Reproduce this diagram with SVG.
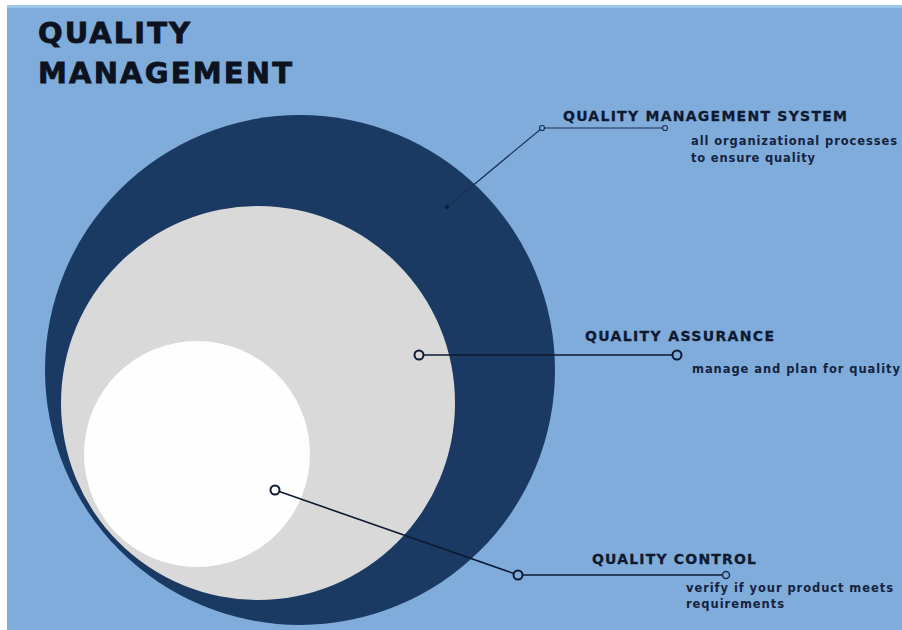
<svg xmlns="http://www.w3.org/2000/svg" width="902" height="630" viewBox="0 0 902 630">
  <style>
    .title { font-family: "DejaVu Sans", "Liberation Sans", sans-serif; font-weight: bold; font-size: 29px; fill: #0d1220; stroke: #0d1220; stroke-width: 0.8; }
    .head { font-family: "DejaVu Sans", "Liberation Sans", sans-serif; font-weight: bold; font-size: 14px; fill: #0f1a2e; stroke: #0f1a2e; stroke-width: 0.3; }
    .sub { font-family: "DejaVu Sans", "Liberation Sans", sans-serif; font-size: 11.5px; fill: #15233d; font-weight: 600; }
    .conn { stroke: #0e1a30; stroke-width: 1.6; fill: none; }
    .thin { stroke: #1a2f52; stroke-width: 1.2; fill: none; }
    .ring { fill: #80acdc; stroke: #0e1a30; stroke-width: 2; }
    .ringsm { fill: #80acdc; stroke: #1a2f52; stroke-width: 1.2; }
  </style>
  <rect x="0" y="0" width="902" height="630" fill="#ffffff"/>
  <rect x="7" y="5" width="895" height="625" fill="#80acdc"/>
  <rect x="7" y="5" width="895" height="3" fill="#9cc6e6"/>

  <g id="title">
    <text class="title" x="38" y="43" textLength="152" lengthAdjust="spacing">QUALITY</text>
    <text class="title" x="38" y="83" textLength="254" lengthAdjust="spacing">MANAGEMENT</text>
  </g>

  <g id="qms-circle">
    <circle cx="300" cy="370" r="255" fill="#1b3a63"/>
  </g>
  <g id="qa-circle">
    <circle cx="258" cy="403" r="197" fill="#d9d9d9"/>
  </g>
  <g id="qc-circle">
    <circle cx="197" cy="454" r="113" fill="#fefefe"/>
  </g>

  <g id="connectors">
    <polyline class="thin" points="447,207 542,128 665,128"/>
    <circle cx="447" cy="207" r="2" fill="#0e1a30"/>
    <circle class="ringsm" cx="542" cy="128" r="2.5"/>
    <circle class="ringsm" cx="665" cy="128" r="2.5"/>

    <line class="conn" x1="419" y1="355" x2="677" y2="355"/>
    <circle class="ring" cx="419" cy="355" r="4.5" style="fill:#d9d9d9"/>
    <circle class="ring" cx="677" cy="355" r="4.5"/>

    <polyline class="conn" points="275,490 518,575 726,575"/>
    <circle class="ring" cx="275" cy="490" r="4.5" style="fill:#fefefe"/>
    <circle class="ring" cx="518" cy="575" r="4.5"/>
    <circle class="ringsm" cx="726" cy="575" r="3.5" style="stroke-width:1.5"/>
  </g>

  <g id="qms-label">
    <text class="head" x="563" y="121" textLength="284" lengthAdjust="spacing">QUALITY MANAGEMENT SYSTEM</text>
    <text class="sub" x="691" y="145" textLength="206" lengthAdjust="spacing">all organizational processes</text>
    <text class="sub" x="691" y="162" textLength="124" lengthAdjust="spacing">to ensure quality</text>
  </g>
  <g id="qa-label">
    <text class="head" x="585" y="341" textLength="189" lengthAdjust="spacing">QUALITY ASSURANCE</text>
    <text class="sub" x="692" y="373" textLength="208" lengthAdjust="spacing">manage and plan for quality</text>
  </g>
  <g id="qc-label">
    <text class="head" x="592" y="564" textLength="164" lengthAdjust="spacing">QUALITY CONTROL</text>
    <text class="sub" x="686" y="592" textLength="207" lengthAdjust="spacing">verify if your product meets</text>
    <text class="sub" x="686" y="608" textLength="98" lengthAdjust="spacing">requirements</text>
  </g>
</svg>
